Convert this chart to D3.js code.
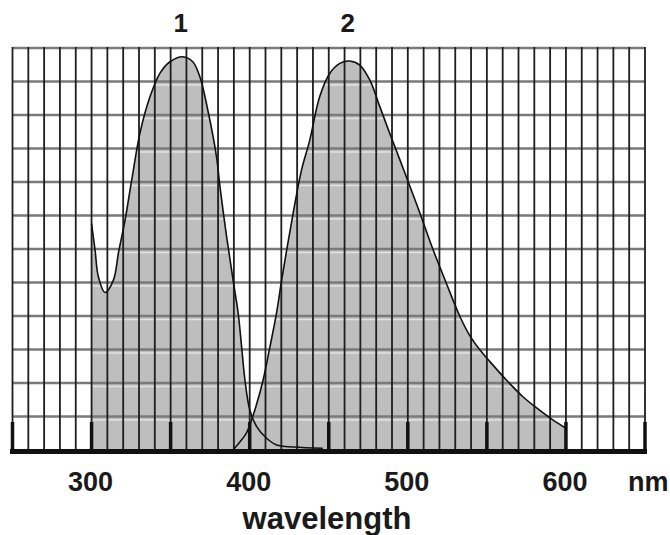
<html>
<head>
<meta charset="utf-8">
<script src="https://d3js.org/d3.v7.min.js"></script>
<style>
  body { margin: 0; background: #fff; }
  text { font-family: "Liberation Sans", Arial, sans-serif; font-weight: bold; fill: #1a1a1a; }
</style>
</head>
<body>
<script type="text/javascript">

// curve 1 (excitation)
var ex_nm  = [300, 302.2, 304.3, 308.5, 313.8, 317.1, 321.2, 325.4, 330.6, 337, 343.3, 349.6, 357.6, 364, 368.5, 373.5, 379, 381.2, 385.4, 389.5, 392.7, 394.9, 397, 400.1, 404.4, 410.7, 417, 428, 446.2];
var ex_val = [67.5, 59.7, 51.7, 47.0, 50.7, 59.1, 68.7, 80.6, 94.6, 105.5, 112.5, 115.9, 117.4, 115.9, 111.4, 101.5, 87.6, 78.6, 63.7, 50.7, 40.9, 30.8, 20.9, 11.9, 7.0, 3.5, 1.5, 0.9, 0.5];

// curve 2 (emission)
var em_nm  = [389.5, 398, 401.2, 403.9, 408.5, 412.8, 417, 420.2, 427.5, 432.8, 438, 444.3, 450.6, 457, 463.3, 469.6, 476, 482.3, 488.6, 495, 500, 507.5, 515.9, 524.6, 532.8, 539, 545.4, 551.7, 562.3, 572.8, 583.3, 591.7, 600];
var em_val = [0, 5.1, 9.0, 12.9, 20.9, 30.8, 40.9, 50.7, 70.7, 83.6, 92.5, 105.5, 112.4, 115.4, 116.1, 114.9, 110.4, 102.5, 94.5, 86.6, 80.4, 70.9, 59.9, 49.5, 40.0, 34.3, 30.0, 26.5, 20.9, 15.9, 11.9, 9.0, 6.5];

var curveNames = ["1", "2"];
var tickLabels = [300, 400, 500, 600];
var unitLabel = "nm";
var axisTitle = "wavelength";

var width = 670, height = 535;

var svg = d3.select("body").append("svg")
    .attr("width", width)
    .attr("height", height);

var x = d3.scaleLinear().domain([250, 650]).range([12.5, 645]);
var y = d3.scaleLinear().domain([0, 120]).range([450, 48]);

var ex = ex_nm.map(function(d, i) { return [d, ex_val[i]]; });
var em = em_nm.map(function(d, i) { return [d, em_val[i]]; });

var smooth = d3.curveCatmullRom.alpha(0.5);

var area = d3.area()
    .x(function(d) { return x(d[0]); })
    .y0(y(0))
    .y1(function(d) { return y(d[1]); })
    .curve(smooth);

var line = d3.line()
    .x(function(d) { return x(d[0]); })
    .y(function(d) { return y(d[1]); })
    .curve(smooth);

// fills
var defs = svg.append("defs");
var clip = defs.append("clipPath").attr("id", "fillclip");
clip.append("path").attr("d", area(ex));
clip.append("path").attr("d", area(em));

svg.append("path").attr("d", area(ex)).attr("fill", "#bebebe");
svg.append("path").attr("d", area(em)).attr("fill", "#bebebe");

// light lines seen inside the shaded part
svg.append("g")
    .attr("clip-path", "url(#fillclip)")
  .selectAll("line")
  .data(d3.range(10, 121, 10))
  .enter().append("line")
    .attr("x1", x(250)).attr("x2", x(650))
    .attr("y1", function(d) { return y(d) + 3.5; })
    .attr("y2", function(d) { return y(d) + 3.5; })
    .attr("stroke", "#e2e2e2")
    .attr("stroke-width", 1.5);

// grid
svg.append("g").selectAll("line")
  .data(d3.range(10, 121, 10))
  .enter().append("line")
    .attr("x1", x(250)).attr("x2", x(650))
    .attr("y1", function(d) { return y(d); })
    .attr("y2", function(d) { return y(d); })
    .attr("stroke", "#7a7a7a")
    .attr("stroke-width", 2.6);

svg.append("g").selectAll("line")
  .data(d3.range(250, 651, 10))
  .enter().append("line")
    .attr("x1", function(d) { return x(d); })
    .attr("x2", function(d) { return x(d); })
    .attr("y1", y(120) - 1)
    .attr("y2", y(0))
    .attr("stroke", "#1e1e1e")
    .attr("stroke-width", 1.8);

// curves
svg.append("path").attr("d", line(ex))
    .attr("fill", "none").attr("stroke", "#111").attr("stroke-width", 1.6);
svg.append("path").attr("d", line(em))
    .attr("fill", "none").attr("stroke", "#111").attr("stroke-width", 1.6);

// bottom axis with ticks every 50 nm
svg.append("line")
    .attr("x1", x(250) - 2.5).attr("x2", x(650) + 2)
    .attr("y1", y(0) + 1.5).attr("y2", y(0) + 1.5)
    .attr("stroke", "#111").attr("stroke-width", 5);

svg.append("g").selectAll("line")
  .data(d3.range(250, 651, 50))
  .enter().append("line")
    .attr("x1", function(d) { return x(d); })
    .attr("x2", function(d) { return x(d); })
    .attr("y1", y(0) - 28)
    .attr("y2", y(0))
    .attr("stroke", "#111")
    .attr("stroke-width", 3.5);

svg.append("g").selectAll("text")
  .data(tickLabels)
  .enter().append("text")
    .attr("x", function(d) { return x(d) - 1; })
    .attr("y", 491)
    .attr("text-anchor", "middle")
    .attr("font-size", 27)
    .text(function(d) { return d; });

svg.append("text")
    .attr("x", 628).attr("y", 491)
    .attr("font-size", 27)
    .text(unitLabel);

svg.append("text")
    .attr("x", 327).attr("y", 529)
    .attr("text-anchor", "middle")
    .attr("font-size", 31)
    .text(axisTitle);

// curve numbers above the peaks
[ex, em].forEach(function(s, i) {
  var peak = s[d3.maxIndex(s, function(d) { return d[1]; })];
  svg.append("text")
      .attr("x", x(peak[0]) - 2)
      .attr("y", 32)
      .attr("text-anchor", "middle")
      .attr("font-size", 26)
      .text(curveNames[i]);
});

</script>
</body>
</html>
